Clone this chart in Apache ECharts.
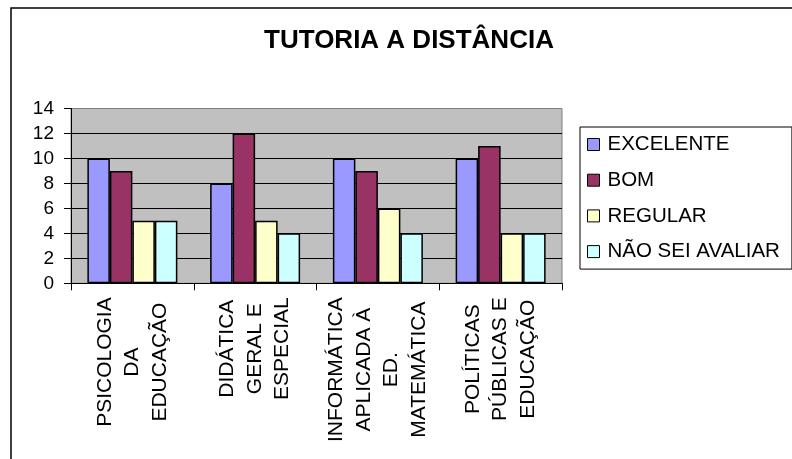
<!DOCTYPE html>
<html>
<head>
<meta charset="utf-8">
<script src="https://cdn.jsdelivr.net/npm/echarts@6/dist/echarts.min.js"></script>
<style>
  html, body { margin: 0; padding: 0; background: #fff; }
  #chart { width: 792px; height: 459px; }
</style>
</head>
<body>
<div id="chart"></div>
<script>
// Course names, one line per row of the rotated axis label
const categories = [
  'PSICOLOGIA\nDA\nEDUCAÇÃO',
  'DIDÁTICA\nGERAL E\nESPECIAL',
  'INFORMÁTICA\nAPLICADA À\nED.\nMATEMÁTICA',
  'POLÍTICAS\nPÚBLICAS E\nEDUCAÇÃO'
];
const seriesNames = ['EXCELENTE', 'BOM', 'REGULAR', 'NÃO SEI AVALIAR'];
const excelente = [10, 8, 10, 10];
const bom = [9, 12, 9, 11];
const regular = [5, 5, 6, 4];
const naoSeiAvaliar = [5, 4, 4, 4];
const yTicks = [0, 2, 4, 6, 8, 10, 12, 14];

const FONT = '"Liberation Sans", Arial, sans-serif';
const colors = ['#9999FF', '#993366', '#FFFFCC', '#CCFFFF'];
const values = [excelente, bom, regular, naoSeiAvaliar];

const chart = echarts.init(document.getElementById('chart'), null, { renderer: 'canvas' });

// Gridlines are dark; the one at the top of the plot is the lighter frame colour
const splitColors = yTicks.map((v, i) => (i === yTicks.length - 1 ? '#808080' : '#000000'));

chart.setOption({
  animation: false,
  textStyle: { fontFamily: FONT, color: '#000' },
  graphic: [
    {
      type: 'rect',
      z: 0,
      shape: { x: 11, y: 8, width: 900, height: 600 },
      style: { fill: 'none', stroke: '#000', lineWidth: 1.5 }
    },
    {
      type: 'text',
      z: 10,
      x: 409,
      y: 41,
      style: {
        text: 'TUTORIA A DISTÂNCIA',
        font: 'bold 26px ' + FONT,
        fill: '#000',
        textAlign: 'center',
        textVerticalAlign: 'middle'
      }
    }
  ],
  legend: {
    orient: 'vertical',
    left: 580,
    top: 127,
    padding: [7, 12, 7, 7],
    borderColor: '#000',
    borderWidth: 1,
    backgroundColor: '#fff',
    itemGap: 14.7,
    itemWidth: 12,
    itemHeight: 12,
    icon: 'rect',
    itemStyle: { borderColor: '#000', borderWidth: 1 },
    textStyle: { fontSize: 20.5, lineHeight: 20, color: '#000', fontFamily: FONT, padding: [0, 0, 0, 3] },
    data: seriesNames
  },
  grid: {
    left: 71,
    right: 230,
    top: 108.5,
    bottom: 175.7,
    show: true,
    backgroundColor: '#C0C0C0',
    borderColor: '#808080',
    borderWidth: 1
  },
  xAxis: {
    type: 'category',
    data: categories,
    axisLine: { lineStyle: { color: '#000', width: 1 } },
    axisTick: { show: true, length: 7, lineStyle: { color: '#000' } },
    axisLabel: {
      interval: 0,
      rotate: 90,
      margin: 14,
      formatter: function (v) {
        return v.split('\n').map(function (l) { return '{lbl|' + l + '}'; }).join('\n');
      },
      rich: {
        lbl: { fontSize: 21, lineHeight: 27.5, align: 'center', color: '#000', fontFamily: FONT }
      }
    },
    splitLine: { show: false }
  },
  yAxis: {
    type: 'value',
    min: 0,
    max: 14,
    interval: 2,
    axisLine: { show: true, lineStyle: { color: '#000', width: 1 } },
    axisTick: { show: true, length: 7, lineStyle: { color: '#000' } },
    axisLabel: { fontSize: 19, color: '#000', margin: 17, fontFamily: FONT },
    splitLine: { show: true, lineStyle: { color: splitColors, width: 1 } }
  },
  series: seriesNames.map(function (name, i) {
    return {
      name: name,
      type: 'bar',
      data: values[i],
      barGap: '0%',
      barCategoryGap: '26.7%',
      itemStyle: { color: colors[i], borderColor: '#000', borderWidth: 1.5 }
    };
  })
});
</script>
</body>
</html>
